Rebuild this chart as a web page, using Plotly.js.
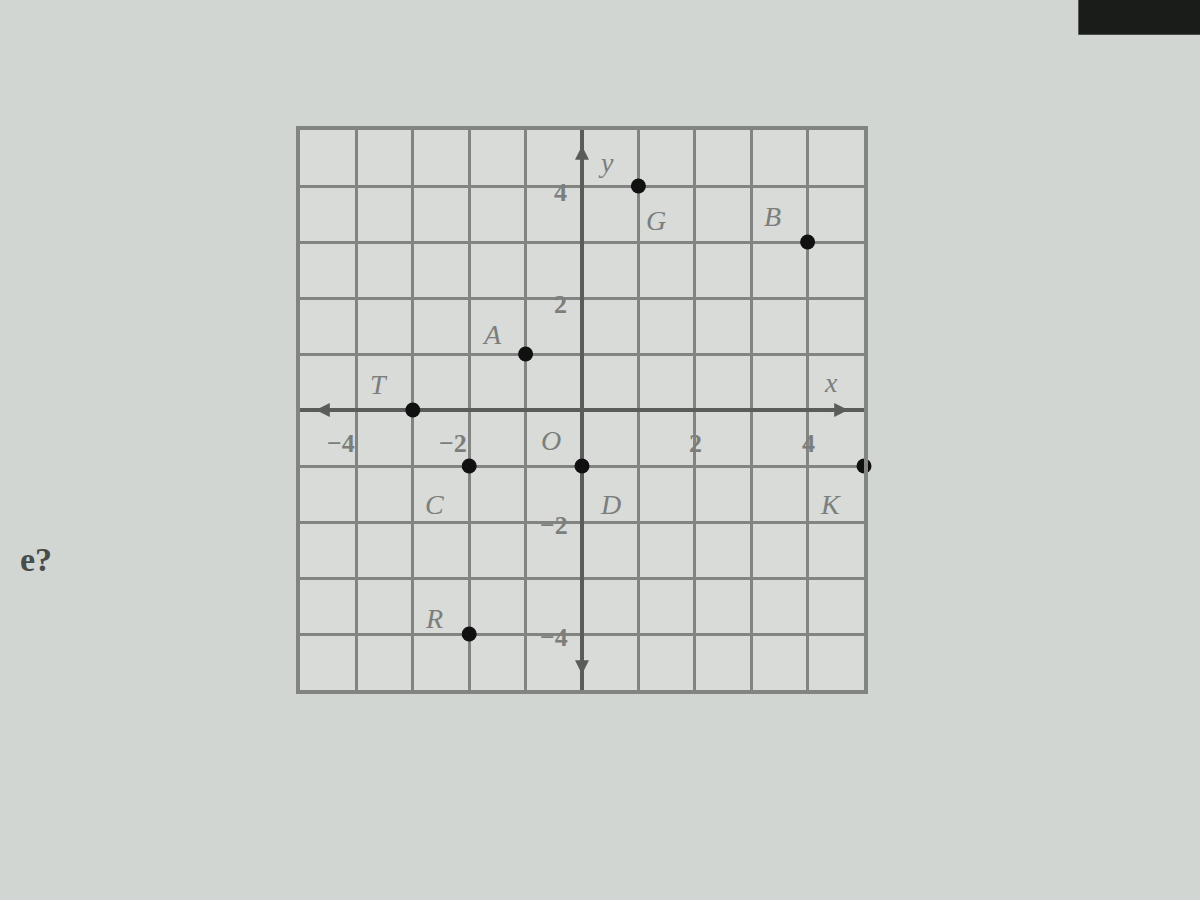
<!DOCTYPE html>
<html>
<head>
<meta charset="utf-8">
<script src="https://cdn.plot.ly/plotly-3.0.1.min.js"></script>
<style>html,body{margin:0;padding:0;background:#d2d6d2;}#chart{width:1200px;height:900px;}</style>
</head>
<body>
<div id="chart"></div>
<script>
// ---- data ----
const pointNames = ["G", "B", "A", "T", "C", "D", "K", "R"];
const pointX = [1, 4, -1, -3, -2, 0, 5, -2];
const pointY = [4, 3, 1, 0, -1, -1, -1, -4];
const xTickVals = [-4, -2, 2, 4];
const xTickText = ["\u22124", "\u22122", "2", "4"];
const yTickVals = [4, 2, -2, -4];
const yTickText = ["4", "2", "\u22122", "\u22124"];

// ---- label offsets (style) ----
const labelOffset = {
  G: [0.32, -0.62], B: [-0.62, 0.45], A: [-0.6, 0.35], T: [-0.6, 0.45],
  C: [-0.62, -0.68], D: [0.5, -0.68], K: [-0.6, -0.68], R: [-0.62, 0.27]
};

const grey = "#7c7e7c";
const labelFont = {family: "Liberation Serif, DejaVu Serif, serif", size: 28, color: grey, style: "italic"};
const numFont = {family: "Liberation Serif, DejaVu Serif, serif", size: 26, color: grey, weight: "bold"};

const annotations = [];
// axis arrowheads (short arrows so they do not cover points)
const arrowStyle = {showarrow: true, arrowhead: 2, arrowsize: 0.8, arrowwidth: 3.5, arrowcolor: "#5a5c5a",
  text: "", xref: "x", yref: "y", axref: "x", ayref: "y"};
annotations.push(Object.assign({x: 4.72, y: 0, ax: 4.3, ay: 0}, arrowStyle));
annotations.push(Object.assign({x: -4.72, y: 0, ax: -4.3, ay: 0}, arrowStyle));
annotations.push(Object.assign({x: 0, y: 4.72, ax: 0, ay: 4.3}, arrowStyle));
annotations.push(Object.assign({x: 0, y: -4.72, ax: 0, ay: -4.3}, arrowStyle));

pointNames.forEach((n, i) => {
  const o = labelOffset[n];
  annotations.push({x: pointX[i] + o[0], y: pointY[i] + o[1], text: n, showarrow: false,
    font: labelFont, xref: "x", yref: "y"});
});
xTickVals.forEach((v, i) => {
  annotations.push({x: v + (v < 0 ? -0.28 : 0.02), y: -0.6, text: xTickText[i], showarrow: false,
    font: numFont, xref: "x", yref: "y"});
});
yTickVals.forEach((v, i) => {
  annotations.push({x: v < 0 ? -0.5 : -0.38, y: v - 0.12 + (v > 0 ? 0 : 0.05), text: yTickText[i], showarrow: false,
    font: numFont, xref: "x", yref: "y"});
});
annotations.push({x: -0.55, y: -0.55, text: "O", showarrow: false, font: labelFont, xref: "x", yref: "y"});
annotations.push({x: 4.42, y: 0.5, text: "x", showarrow: false, font: labelFont, xref: "x", yref: "y"});
annotations.push({x: 0.42, y: 4.42, text: "y", showarrow: false, font: labelFont, xref: "x", yref: "y"});
// page text fragment left of the chart
annotations.push({x: -0.5, y: 0.196, xref: "paper", yref: "paper", text: "e?", showarrow: false,
  xanchor: "left", font: {family: "Liberation Serif, DejaVu Serif, serif", size: 34, color: "#4a4c4a", weight: "bold"}});

const trace = {
  x: pointX, y: pointY, text: pointNames, mode: "markers", type: "scatter",
  marker: {color: "#111111", size: 15}, hoverinfo: "text", cliponaxis: false
};

const layout = {
  width: 1200, height: 900,
  margin: {l: 300, r: 336, t: 130, b: 210},
  paper_bgcolor: "#d2d6d2",
  plot_bgcolor: "#d8dbd8",
  showlegend: false,
  xaxis: {range: [-5, 5], dtick: 1, tick0: 0, showgrid: true, gridcolor: "#828482", gridwidth: 3,
    zeroline: true, zerolinecolor: "#5a5c5a", zerolinewidth: 3.5, showticklabels: false, ticks: "",
    showline: true, linecolor: "#828482", linewidth: 4, mirror: true, fixedrange: true},
  yaxis: {range: [-5, 5], dtick: 1, tick0: 0, showgrid: true, gridcolor: "#828482", gridwidth: 3,
    zeroline: true, zerolinecolor: "#5a5c5a", zerolinewidth: 3.5, showticklabels: false, ticks: "",
    showline: true, linecolor: "#828482", linewidth: 4, mirror: true, fixedrange: true},
  annotations: annotations,
  shapes: [
    {type: "rect", xref: "paper", yref: "paper", x0: 1.38, x1: 1.6, y0: 1.17, y1: 1.24,
      fillcolor: "#1a1c1a", line: {width: 0}}
  ]
};

Plotly.newPlot("chart", [trace], layout, {displayModeBar: false, staticPlot: true});
</script>
</body>
</html>
